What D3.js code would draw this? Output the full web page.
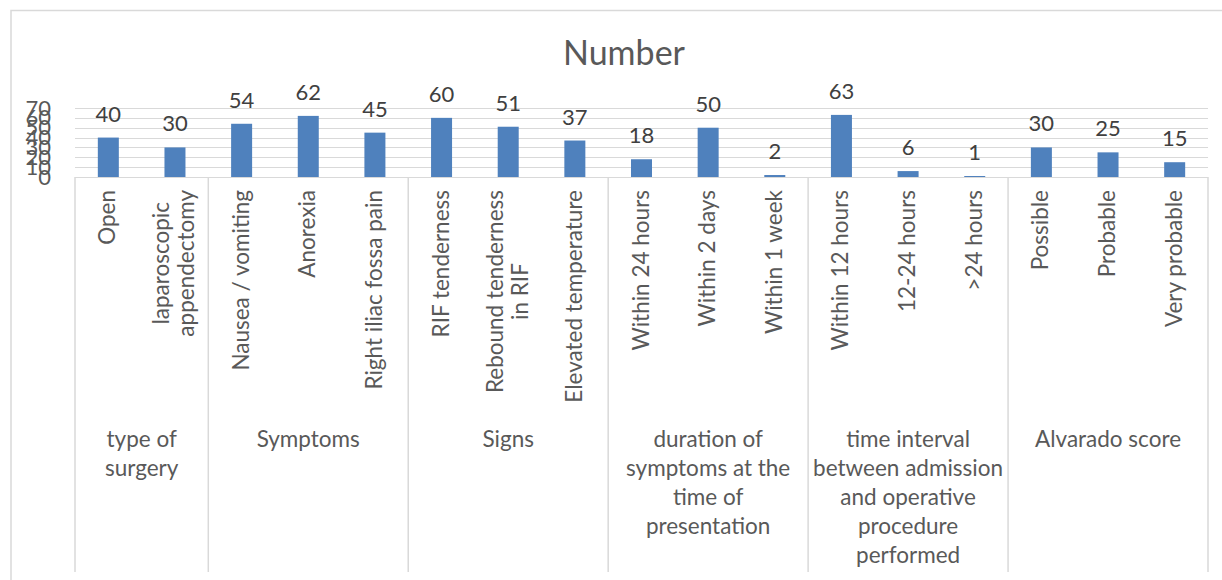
<!DOCTYPE html>
<html>
<head>
<meta charset="utf-8">
<script src="https://cdn.jsdelivr.net/npm/d3@7"></script>
<style>
  body { margin: 0; background: #fff; }
  svg { display: block; font-family: Lato, "Open Sans", sans-serif; }
</style>
</head>
<body>
<main></main>
<script>
const sizeOfSVG = { width: 1222, height: 580 };

// data
const groups = ["type of surgery", "Symptoms", "Signs",
  "duration of symptoms at the time of presentation",
  "time interval between admission and operative procedure performed",
  "Alvarado score"];
const groupLines = [
  ["type of", "surgery"],
  ["Symptoms"],
  ["Signs"],
  ["duration of", "symptoms at the", "time of", "presentation"],
  ["time interval", "between admission", "and operative", "procedure", "performed"],
  ["Alvarado score"]
];
const categories = ["Open", "laparoscopic appendectomy", "Nausea / vomiting", "Anorexia",
  "Right iliac fossa pain", "RIF tenderness", "Rebound tenderness in RIF", "Elevated temperature",
  "Within 24 hours", "Within 2 days", "Within 1 week", "Within 12 hours", "12-24 hours",
  ">24 hours", "Possible", "Probable", "Very probable"];
const categoryLines = [["Open"], ["laparoscopic", "appendectomy"], ["Nausea / vomiting"], ["Anorexia"],
  ["Right iliac fossa pain"], ["RIF tenderness"], ["Rebound tenderness", "in RIF"], ["Elevated temperature"],
  ["Within 24 hours"], ["Within 2 days"], ["Within 1 week"], ["Within 12 hours"], ["12-24 hours"],
  [">24 hours"], ["Possible"], ["Probable"], ["Very probable"]];
const categoryGroup = [0, 0, 1, 1, 1, 2, 2, 2, 3, 3, 3, 4, 4, 4, 5, 5, 5];
const values = [40, 30, 54, 62, 45, 60, 51, 37, 18, 50, 2, 63, 6, 1, 30, 25, 15];
const yTicks = [0, 10, 20, 30, 40, 50, 60, 70];

const plot = { left: 75, right: 1208, top: 108, bottom: 177 };
const labelTop = 190;
const groupLabelTop = 447;
const lineGap = 29;

const svg = d3.select('main').append('svg')
  .attr('width', sizeOfSVG.width)
  .attr('height', sizeOfSVG.height);

// outer chart frame
svg.append('path')
  .attr('d', `M11,${sizeOfSVG.height + 2} V10.5 H${sizeOfSVG.width + 2}`)
  .attr('fill', 'none').attr('stroke', '#d9d9d9').attr('stroke-width', 1.5);

svg.append('text')
  .attr('x', 624).attr('y', 65)
  .attr('text-anchor', 'middle')
  .attr('fill', '#595959')
  .style('font-size', '34px')
  .text('Number');

const xScale = d3.scaleBand()
  .domain(d3.range(categories.length))
  .range([plot.left, plot.right]);

const yScale = d3.scaleLinear()
  .domain([0, 70])
  .range([plot.bottom, plot.top]);

// gridlines
svg.append('g').selectAll('line')
  .data(yTicks)
  .enter().append('line')
  .attr('x1', plot.left).attr('x2', plot.right)
  .attr('y1', d => Math.round(yScale(d)) + 0.5)
  .attr('y2', d => Math.round(yScale(d)) + 0.5)
  .attr('stroke', '#d9d9d9').attr('stroke-width', 1.2);

// y axis labels (overlapping like the original)
const yAxis = svg.append('g')
  .attr('transform', `translate(51,0)`)
  .call(d3.axisLeft(yScale).tickValues(yTicks).tickSize(0).tickPadding(0));
yAxis.select('.domain').remove();
yAxis.selectAll('text')
  .attr('fill', '#595959')
  .style('font-size', '22px')
  .style('font-family', 'Lato, "Open Sans", sans-serif');

// bars
const barW = 21;
svg.append('g').selectAll('rect')
  .data(values)
  .enter().append('rect')
  .attr('x', (d, i) => xScale(i) + xScale.bandwidth() / 2 - barW / 2)
  .attr('y', d => yScale(d))
  .attr('width', barW)
  .attr('height', d => yScale(0) - yScale(d))
  .attr('fill', '#4f81bd');

// data labels
svg.append('g').selectAll('text')
  .data(values)
  .enter().append('text')
  .attr('x', (d, i) => xScale(i) + xScale.bandwidth() / 2)
  .attr('y', d => yScale(d) - 16)
  .attr('text-anchor', 'middle')
  .attr('fill', '#404040')
  .style('font-size', '22px')
  .text(d => d);

// group divider lines
const bounds = [0];
categoryGroup.forEach((g, i) => { if (i > 0 && g !== categoryGroup[i - 1]) bounds.push(i); });
bounds.push(categories.length);
svg.append('g').selectAll('line')
  .data(bounds)
  .enter().append('line')
  .attr('x1', i => i < categories.length ? xScale(i) : plot.right)
  .attr('x2', i => i < categories.length ? xScale(i) : plot.right)
  .attr('y1', plot.bottom)
  .attr('y2', 572)
  .attr('stroke', '#d9d9d9').attr('stroke-width', 1.5);

// rotated category labels
const catG = svg.append('g');
categoryLines.forEach((lines, i) => {
  const cx = xScale(i) + xScale.bandwidth() / 2;
  const g = catG.append('g');
  const texts = lines.map(t => g.append('text')
    .attr('text-anchor', 'middle')
    .attr('fill', '#595959')
    .style('font-size', '22.5px')
    .text(t));
  const maxW = d3.max(texts, t => t.node().getComputedTextLength());
  const n = lines.length;
  texts.forEach((t, k) => {
    const x = cx + (k - (n - 1) / 2) * 25 + 7;
    const y = labelTop + maxW / 2;
    t.attr('transform', `translate(${x},${y}) rotate(-90)`);
  });
});

// group labels
const grpG = svg.append('g');
groupLines.forEach((lines, gi) => {
  const idx = categoryGroup.map((g, i) => g === gi ? i : -1).filter(i => i >= 0);
  const x0 = xScale(idx[0]);
  const x1 = xScale(idx[idx.length - 1]) + xScale.bandwidth();
  lines.forEach((t, k) => {
    grpG.append('text')
      .attr('x', (x0 + x1) / 2)
      .attr('y', groupLabelTop + k * lineGap)
      .attr('text-anchor', 'middle')
      .attr('fill', '#595959')
      .style('font-size', '22.5px')
      .text(t);
  });
});
</script>
</body>
</html>
